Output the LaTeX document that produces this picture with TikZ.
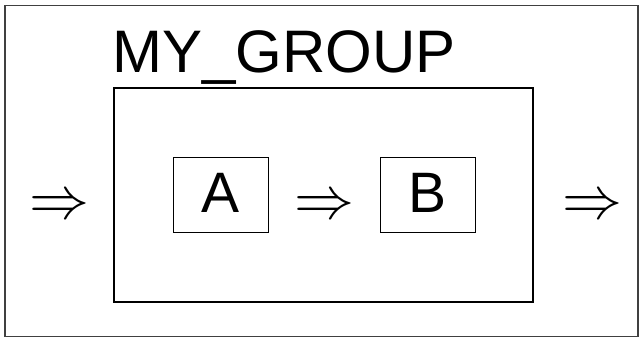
\documentclass[tikz,border=0pt]{standalone}
\usepackage{fix-cm}
\usepackage{fontspec}
\setmainfont{Liberation Sans}
\usetikzlibrary{positioning}

\begin{document}
\begin{tikzpicture}[x=1pt,y=-1pt,
  block/.style={draw, line width=1.3pt, minimum width=95pt, minimum height=75pt, inner sep=0pt, text depth=5pt, font=\fontsize{57}{60}\selectfont},
  flow/.style={inner sep=0pt, font=\fontsize{60}{64}\selectfont}]
  \useasboundingbox (0,0) rectangle (644,339);
  \node[draw=black!75, line width=1.3pt, minimum width=633pt, minimum height=331pt, inner sep=0pt] (frame) at (321.5,171) {};
  \node[draw, line width=1.3pt, minimum width=419pt, minimum height=214pt, inner sep=0pt] (group) at (323.5,195) {};
  \node[anchor=base west, inner sep=0pt, font=\fontsize{60}{64}\selectfont] (title) at (112,73) {MY\_GROUP};
  \node[block] (a) at (221,195) {A};
  \node[block] (b) at (428,195) {B};

  \node[flow] (in) at (59,207) {$\Rightarrow$};
  \node[flow] (mid) at (324.5,207) {$\Rightarrow$};
  \node[flow] (out) at (592,207) {$\Rightarrow$};
\end{tikzpicture}
\end{document}
